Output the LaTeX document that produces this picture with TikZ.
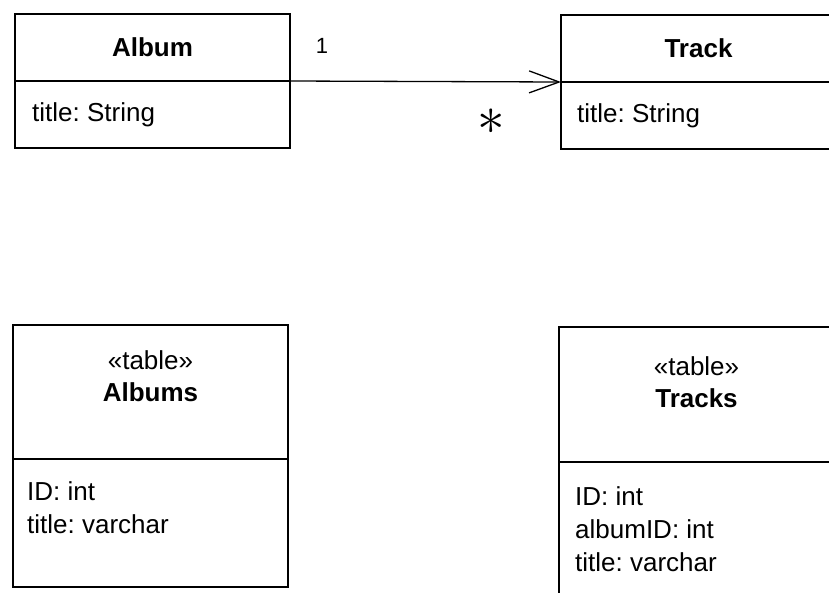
\documentclass[tikz,border=0pt]{standalone}
\usepackage{fontspec}
\setmainfont{Liberation Sans}
\usetikzlibrary{arrows.meta,positioning}
\frenchspacing

\tikzset{
  compartment/.style={draw, line width=1.3pt, minimum width=275pt, inner sep=0pt, outer sep=0pt},
  classname/.style={inner sep=0pt, font=\fontsize{26}{31}\selectfont\bfseries},
  stereo/.style={align=center, inner sep=0pt, anchor=north, font=\fontsize{26}{32}\selectfont},
  attrs/.style={align=left, inner sep=0pt, font=\fontsize{26}{33}\selectfont},
  mult/.style={inner sep=0pt},
  assoc/.style={line width=1.3pt, -{Straight Barb[length=30pt,width=22pt,line width=1.3pt]}},
}

\begin{document}
\begin{tikzpicture}[x=1pt,y=-1pt]
  \clip (0,0) rectangle (829,592);

  % domain classes
  \node[compartment, minimum height=67pt, anchor=north west] (albumHead) at (15,14) {};
  \node[compartment, minimum height=67pt, below=0pt of albumHead] (albumBody) {};
  \node[classname] (albumName) at (albumHead.center) {Album};
  \node[attrs, anchor=west] (albumAttrs) at ([xshift=17pt]albumBody.west) {title: String};

  \node[compartment, minimum height=67pt, anchor=north west] (trackHead) at (561,15) {};
  \node[compartment, minimum height=67pt, below=0pt of trackHead] (trackBody) {};
  \node[classname] (trackName) at (trackHead.center) {Track};
  \node[attrs, anchor=west] (trackAttrs) at ([xshift=16pt]trackBody.west) {title: String};

  % association
  \draw[assoc] (albumHead.south east) -- (trackHead.south west);
  \node[mult, font=\fontsize{22}{22}\selectfont] (albumMult) at ([xshift=32pt,yshift=35pt]albumHead.south east) {1};
  \node[mult] (trackMult) at ([xshift=-70pt,yshift=-40pt]trackHead.south west) {\scalebox{5.5}{$\ast$}};

  % tables
  \node[compartment, minimum height=134pt, anchor=north west] (albumsHead) at (13,325) {};
  \node[compartment, minimum height=128pt, below=0pt of albumsHead] (albumsBody) {};
  \node[stereo, below=25pt of albumsHead.north] (albumsName) {«table»\\\textbf{Albums}};
  \node[attrs, anchor=north west] (albumsAttrs) at ([xshift=14pt,yshift=-22pt]albumsBody.north west) {ID: int\\title: varchar};

  \node[compartment, minimum height=135pt, anchor=north west] (tracksHead) at (559,327) {};
  \node[compartment, minimum height=140pt, below=0pt of tracksHead] (tracksBody) {};
  \node[stereo, below=29pt of tracksHead.north] (tracksName) {«table»\\\textbf{Tracks}};
  \node[attrs, anchor=north west] (tracksAttrs) at ([xshift=16pt,yshift=-24pt]tracksBody.north west) {ID: int\\albumID: int\\title: varchar};
\end{tikzpicture}
\end{document}
